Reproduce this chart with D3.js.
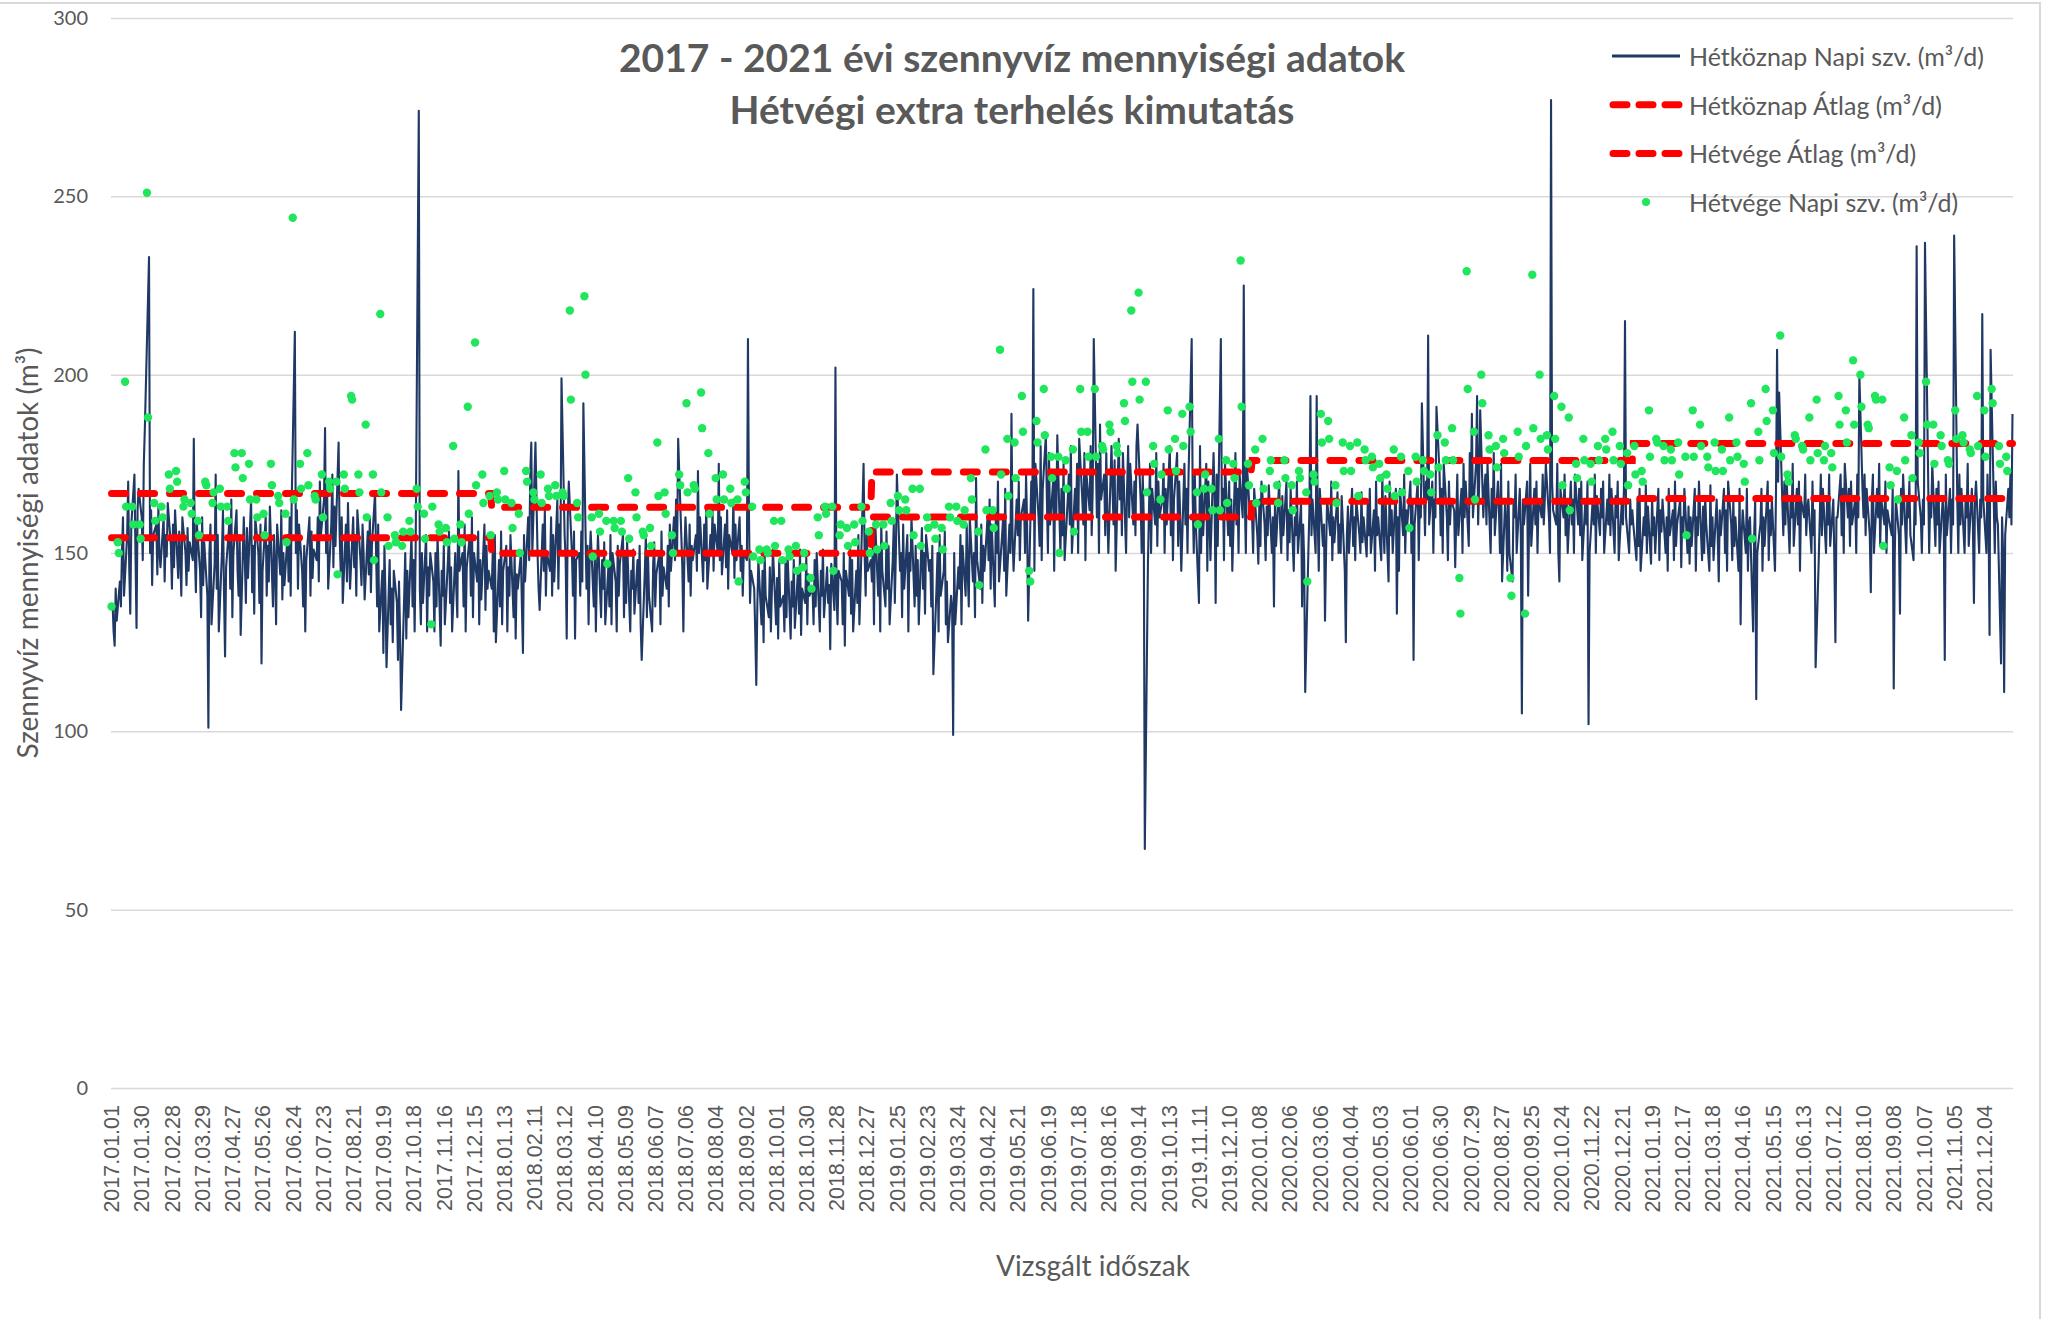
<!DOCTYPE html>
<html>
<head>
<meta charset="utf-8">
<title>2017 - 2021 évi szennyvíz mennyiségi adatok</title>
<style>
  body { margin: 0; background: white; }
  svg text { fill: #595959; }
  .grid line { stroke: #d9d9d9; stroke-width: 1.5; }
</style>
<script src="https://d3js.org/d3.v7.min.js"></script>
</head>
<body>
<div id="chart"></div>
<script>
// Hétköznap napi szennyvíz (m3/d), weekdays in date order, one row ~ 4 weeks
const wd2017 = [
  136,128,124,140,131,142,135,150,160,138,155,170,146,133,158,172,150,129,162,168,
  160,148,175,185,197,233,150,162,141,155,158,144,163,150,146,160,142,155,149,164,
  152,140,158,146,162,143,156,149,138,160,150,141,157,145,153,148,182,150,139,158,
  145,132,160,141,153,138,101,150,158,130,147,172,140,155,128,150,162,139,121,146,
  158,140,165,132,150,162,145,138,155,127,160,148,136,157,143,165,139,152,133,160,
  150,136,158,119,145,160,138,152,142,163,135,155,146,130,158,144,162,137,150,141,
  155,142,160,138,165,212,150,162,140,158,145,135,152,128,148,160,138,156,143,151,
  148,160,142,170,155,165,185,150,168,140,158,172,146,163,152,181,155,145,160,136,
  158,142,164,150,140,160,146,155,138,162,148,141,158,150,137,156,144,160,139,152,
  167,150,135,158,128,145,122,152,138,118,148,130,140,125,145,136,120,142,128,106,
  138,150,126,145,132,155,135,148,128,152,274,140,130,150,136,155,128,146,138,150,
  142,128,150,135,155,124,145,138,152,130,148,156,136,146,128,150,140,132,173,145,
  150,135,158,128,146,155,138,160,132,150,142,156,130,148,137,158,134,152,140,145
];
const wd2018 = [
  140,150,128,155,125,148,135,156,130,145,152,128,146,138,155,132,150,126,144,140,
  150,135,122,155,142,160,148,172,181,150,181,165,150,140,134,158,145,162,138,150,
  145,160,138,155,142,165,140,158,150,199,155,148,126,160,170,150,138,156,126,148,
  150,138,156,142,192,140,152,130,148,156,135,150,128,145,155,132,148,140,153,130,
  146,135,155,130,150,142,128,152,138,147,155,132,149,136,153,128,145,140,151,133,
  148,136,152,130,120,145,155,132,150,138,128,147,153,135,144,150,130,156,138,146,
  140,152,135,158,145,160,148,165,150,182,155,146,128,150,160,142,158,138,152,148,
  155,145,173,150,160,142,158,148,163,140,155,150,162,145,158,150,175,148,160,144,
  158,146,162,140,155,150,165,143,158,148,160,145,152,138,150,148,210,160,136,145,
  140,128,113,135,148,130,145,125,150,138,132,146,128,140,151,130,143,126,148,135,
  138,128,147,132,150,126,142,135,148,129,145,133,151,127,140,136,149,130,144,138,
  140,130,148,135,150,128,145,138,151,132,146,136,141,123,147,134,202,139,130,145,
  142,130,150,124,145,138,152,133,148,128,145,136,155,130,140,175,150,138,156,145,
  148
];
const wd2019 = [
  142,155,130,160,138,150,128,158,145,135,156,140,152,130,148,158,136,150,172,145,
  150,132,158,140,155,128,150,145,160,135,152,138,148,130,157,140,150,133,155,145,
  148,135,152,116,140,150,128,155,138,145,156,130,142,125,138,135,99,150,130,146,
  140,155,130,152,138,158,145,135,160,142,150,132,171,148,140,158,136,152,145,160,
  148,165,140,158,135,162,150,170,142,155,160,145,168,138,158,150,189,155,145,165,
  155,170,148,160,165,150,172,158,131,170,160,224,145,175,160,152,180,148,168,183,
  165,150,178,158,170,145,172,160,183,150,168,155,175,148,165,172,158,180,150,168,
  160,175,150,182,165,158,178,148,172,162,180,155,168,210,160,175,150,186,165,172,
  155,178,162,150,180,168,158,176,145,182,165,172,155,178,150,168,180,160,175,158,
  170,155,180,186,165,150,172,160,67,147,162,175,150,168,158,178,152,170,160,165,
  175,150,168,158,180,155,172,148,165,178,152,170,160,145,175,158,168,150,172,210,
  165,150,172,158,136,180,150,168,155,175,145,170,160,148,178,165,136,172,152,210,
  160,168,148,175,155,170,152,165,145,178,158,168,150,172,160,225,165,150,175,160,
  162
];
const wd2020 = [
  160,150,168,155,147,165,152,170,158,148,163,155,169,150,160,135,165,152,170,157,
  150,166,155,170,148,162,153,168,145,160,155,170,150,164,135,158,148,111,150,162,
  194,155,165,150,194,160,145,168,152,158,131,150,165,155,170,148,160,153,167,150,
  158,150,166,145,125,155,163,150,168,152,160,148,165,155,150,167,153,160,149,164,
  155,168,150,162,145,170,155,160,148,172,158,150,166,142,170,155,162,150,168,133,
  160,145,168,155,172,150,162,158,170,150,165,120,158,170,148,165,160,192,155,170,
  165,211,158,170,150,165,160,191,172,155,168,150,175,160,148,170,158,165,162,146,
  160,172,155,168,150,175,160,170,152,178,165,189,160,175,194,158,170,190,160,168,
  172,158,175,150,168,160,178,155,170,162,150,175,142,165,158,145,170,150,142,165,
  160,172,150,168,155,105,165,158,170,138,160,175,152,168,158,170,150,165,160,172,
  158,165,175,160,150,277,170,162,158,175,150,142,168,160,172,155,165,150,170,158,
  165,150,172,158,168,155,170,148,165,158,170,102,150,165,158,172,150,166,155,168,
  160,170,150,165,158,172,155,168,150,166,160,170,148,165,158,168,215,160,150,165,
  158,162
];
const wd2021 = [
  158,148,165,152,168,145,160,155,169,150,163,147,166,155,160,150,168,148,162,156,
  165,150,160,145,168,155,162,148,170,152,158,165,146,160,155,168,150,163,147,160,
  152,168,145,160,155,170,148,163,150,166,158,145,169,152,160,148,165,155,142,162,
  155,168,150,162,145,170,158,148,165,152,160,145,168,130,155,162,150,168,145,158,
  160,128,155,165,109,150,158,168,145,160,152,170,148,162,155,165,145,168,207,170,
  195,165,155,170,158,172,150,165,160,175,152,168,158,170,145,165,160,172,155,162,
  165,150,170,155,162,118,148,160,172,155,168,150,165,158,172,152,165,148,125,160,
  160,172,155,168,150,175,160,168,152,170,158,165,150,172,160,200,168,160,172,155,
  168,155,139,165,172,150,168,160,175,152,165,158,170,150,162,160,155,168,112,150,
  165,155,133,168,158,172,150,165,160,170,155,148,165,158,236,170,160,150,165,158,
  237,172,150,165,160,175,152,168,158,170,150,165,160,120,172,155,168,150,165,158,
  239,165,150,172,158,168,150,165,160,175,152,168,158,136,165,170,150,165,160,217,
  165,150,172,160,127,207,165,150,170,160,158,119,160,150,111,155,168,160,172,158,
  189
];

// Hétvége napi szennyvíz (m3/d), Saturdays and Sundays in date order
const we2017 = [
  135,
  153,150,198,163,163,158,158,154,251,188,164,159,163,160,172,168,
  173,170,163,165,164,161,159,155,170,169,164,167,168,163,163,159,
  178,174,178,171,175,165,165,160,161,155,175,169,166,164,161,153,
  244,165,175,168,178,169,166,165,172,160,170,168,170,144,172,168,
  194,193,172,167,186,160,172,148,217,167,160,152,155,153,152,156,
  159,156,168,163,161,154,130,163,158,156,157,153,180,154,158,153,
  191,161,209,169,172,164,166,155
];
const we2018 = [
  167,165,173,165,164,157,161,150,173,170,167,165,172,164,168,166,
  169,166,167,166,218,193,164,160,222,200,160,149,161,156,159,147,
  159,157,159,156,171,154,167,160,156,155,157,152,181,166,167,161,
  155,150,172,169,192,167,169,168,195,185,178,161,171,165,172,165,
  168,164,165,142,170,167,163,149,151,148,151,150,159,152,159,148,
  151,149,152,145,146,150,143,140,160,155,163,161,163,145,155,158,
  157,152,158,153,163,159,156,150
];
const we2019 = [
  158,151,158,152,164,159,166,162,165,162,168,155,168,152,160,157,
  158,154,157,151,163,160,163,159,158,162,171,165,156,141,179,162,
  162,157,207,172,182,166,181,171,194,184,145,142,187,181,196,183,
  177,171,177,150,176,168,179,156,196,184,184,177,196,177,180,179,
  186,184,180,178,192,187,218,198,223,193,198,167,180,175,165,172,
  190,179,182,173,189,180,191,184,167,158,168,172,168,162,182,162,
  176,164,175,171,232,191,175,169
];
const we2020 = [
  179,164,182,168,173,176,169,164,176,171,169,162,173,171,167,142,
  172,170,189,181,187,182,169,164,181,173,180,173,181,166,179,176,
  177,174,175,171,172,168,179,166,177,167,173,157,177,170,176,173,
  172,167,183,174,181,176,185,176,143,133,229,196,184,165,200,192,
  183,179,180,174,182,178,143,138,184,177,133,180,228,185,200,182,
  183,179,194,182,191,169,188,162,175,171,182,176,175,170,180,176,
  182,179,184,176,180,175,178,169
];
const we2021 = [
  180,172,173,170,190,177,182,181,180,176,179,176,181,172,177,155,
  190,177,186,180,177,174,181,173,179,173,188,176,181,177,175,170,
  192,154,184,176,196,187,190,178,211,177,172,170,183,182,180,179,
  188,176,193,178,176,180,178,174,194,186,190,181,204,186,200,191,
  186,185,194,193,193,152,174,169,173,165,188,176,183,171,181,178,
  198,186,186,175,183,180,176,175,190,182,183,181,179,178,194,180,
  190,177,196,192,180,175,177,173
];

// yearly averages (m3/d)
const years = [2017, 2018, 2019, 2020, 2021];
const weekdayAvg = [154.3, 149.9, 160.1, 164.5, 165.3];
const weekendAvg = [166.7, 162.8, 172.7, 175.9, 180.7];

const yTicks = [0, 50, 100, 150, 200, 250, 300];
const tickLabels = [
  "2017.01.01","2017.01.30","2017.02.28","2017.03.29","2017.04.27","2017.05.26","2017.06.24",
  "2017.07.23","2017.08.21","2017.09.19","2017.10.18","2017.11.16","2017.12.15","2018.01.13",
  "2018.02.11","2018.03.12","2018.04.10","2018.05.09","2018.06.07","2018.07.06","2018.08.04",
  "2018.09.02","2018.10.01","2018.10.30","2018.11.28","2018.12.27","2019.01.25","2019.02.23",
  "2019.03.24","2019.04.22","2019.05.21","2019.06.19","2019.07.18","2019.08.16","2019.09.14",
  "2019.10.13","2019.11.11","2019.12.10","2020.01.08","2020.02.06","2020.03.06","2020.04.04",
  "2020.05.03","2020.06.01","2020.06.30","2020.07.29","2020.08.27","2020.09.25","2020.10.24",
  "2020.11.22","2020.12.21","2021.01.19","2021.02.17","2021.03.18","2021.04.16","2021.05.15",
  "2021.06.13","2021.07.12","2021.08.10","2021.09.08","2021.10.07","2021.11.05","2021.12.04"
];

const titleLines = ["2017 - 2021 évi szennyvíz mennyiségi adatok", "Hétvégi extra terhelés kimutatás"];
const legendItems = [
  {name: "Hétköznap Napi szv. (m³/d)", type: "line"},
  {name: "Hétköznap Átlag (m³/d)", type: "dash"},
  {name: "Hétvége Átlag (m³/d)", type: "dash"},
  {name: "Hétvége Napi szv. (m³/d)", type: "dot"}
];

const navy = "#1f3864", red = "#ff0000", green = "#1fe65c";
const FONT = "Lato, 'Open Sans', sans-serif";

// build the category axis: every day of the 5 years
const fmt = d3.timeFormat("%Y.%m.%d");
const days = d3.timeDay.range(new Date(2017, 0, 1), new Date(2022, 0, 1));
const keys = days.map(fmt);

const weekdayVals = [].concat(wd2017, wd2018, wd2019, wd2020, wd2021);
const weekendVals = [].concat(we2017, we2018, we2019, we2020, we2021);
const weekdayPts = [], weekendPts = [];
let iw = 0, ie = 0;
days.forEach((d, i) => {
  const dow = d.getDay();
  if (dow === 0 || dow === 6) {
    if (ie < weekendVals.length) weekendPts.push({key: keys[i], v: weekendVals[ie++]});
  } else {
    if (iw < weekdayVals.length) weekdayPts.push({key: keys[i], v: weekdayVals[iw++]});
  }
});

const plotLeft = 111, plotRight = 2013, plotTop = 18, plotBottom = 1088;

const x = d3.scaleBand().domain(keys).range([plotLeft, plotRight]);
const cx = k => x(k) + x.bandwidth() / 2;
const y = d3.scaleLinear().domain([0, 300]).range([plotBottom, plotTop]);

const svg = d3.select("#chart").append("svg")
  .attr("width", 2045)
  .attr("height", 1319)
  .style("font-family", FONT);

// chart frame
svg.append("rect")
  .attr("x", -2).attr("y", 3)
  .attr("width", 2042).attr("height", 1330)
  .attr("fill", "none")
  .attr("stroke", "#d9d9d9")
  .attr("stroke-width", 2);

// y axis + gridlines
const yAxis = svg.append("g")
  .attr("class", "grid")
  .attr("transform", `translate(${plotLeft},0)`)
  .call(d3.axisLeft(y).tickValues(yTicks).tickSize(-(plotRight - plotLeft)).tickPadding(23));
yAxis.select(".domain").remove();
yAxis.attr("font-family", FONT).attr("font-size", 20);

// x axis labels
const xAxis = svg.append("g")
  .attr("transform", `translate(0,${plotBottom})`)
  .call(d3.axisBottom(x).tickValues(tickLabels).tickSize(0));
xAxis.select(".domain").remove();
xAxis.attr("font-family", "'Liberation Sans', Arial, sans-serif").attr("font-size", 21.5);
xAxis.selectAll("text")
  .attr("transform", "rotate(-90)")
  .attr("text-anchor", "end")
  .attr("x", -17)
  .attr("y", 0)
  .attr("dy", "0.36em");

// weekday daily line
const line = d3.line().x(d => cx(d.key)).y(d => y(d.v));
svg.append("path")
  .datum(weekdayPts)
  .attr("fill", "none")
  .attr("stroke", navy)
  .attr("stroke-width", 2.1)
  .attr("stroke-linejoin", "round")
  .attr("d", line);

// yearly average step lines
const avgPts = vals => years.flatMap((yr, i) => [
  {key: `${yr}.01.01`, v: vals[i]},
  {key: `${yr}.12.31`, v: vals[i]}
]);
[weekdayAvg, weekendAvg].forEach(vals => {
  svg.append("path")
    .datum(avgPts(vals))
    .attr("fill", "none")
    .attr("stroke", red)
    .attr("stroke-width", 7)
    .attr("stroke-linecap", "round")
    .attr("stroke-dasharray", "14,15")
    .attr("d", line);
});

// weekend dots
svg.append("g").selectAll("circle")
  .data(weekendPts)
  .enter().append("circle")
    .attr("cx", d => cx(d.key))
    .attr("cy", d => y(d.v))
    .attr("r", 4.2)
    .attr("fill", green);

// title
svg.append("g").selectAll("text")
  .data(titleLines)
  .enter().append("text")
    .attr("x", 1012)
    .attr("y", (d, i) => 72 + i * 52)
    .attr("text-anchor", "middle")
    .style("font-size", "39px")
    .style("font-weight", "bold")
    .text(d => d);

// axis titles
svg.append("text")
  .attr("transform", "translate(27,553) rotate(-90)")
  .attr("text-anchor", "middle")
  .attr("dominant-baseline", "central")
  .style("font-size", "28px")
  .text("Szennyvíz mennyiségi adatok (m³)");

svg.append("text")
  .attr("x", 1093)
  .attr("y", 1265)
  .attr("text-anchor", "middle")
  .attr("dominant-baseline", "central")
  .style("font-size", "28px")
  .text("Vizsgált időszak");

// legend
const legend = svg.append("g").selectAll("g")
  .data(legendItems)
  .enter().append("g")
    .attr("transform", (d, i) => `translate(0,${56 + i * 48.7})`);

legend.filter(d => d.type === "line").append("line")
  .attr("x1", 1612).attr("x2", 1680)
  .attr("stroke", navy).attr("stroke-width", 3);

legend.filter(d => d.type === "dash").append("line")
  .attr("x1", 1613).attr("x2", 1681)
  .attr("stroke", red).attr("stroke-width", 7)
  .attr("stroke-linecap", "round")
  .attr("stroke-dasharray", "14,12");

legend.filter(d => d.type === "dot").append("circle")
  .attr("cx", 1646).attr("r", 4)
  .attr("fill", green);

legend.append("text")
  .attr("x", 1689)
  .attr("dominant-baseline", "central")
  .style("font-size", "25px")
  .text(d => d.name);
</script>
</body>
</html>
